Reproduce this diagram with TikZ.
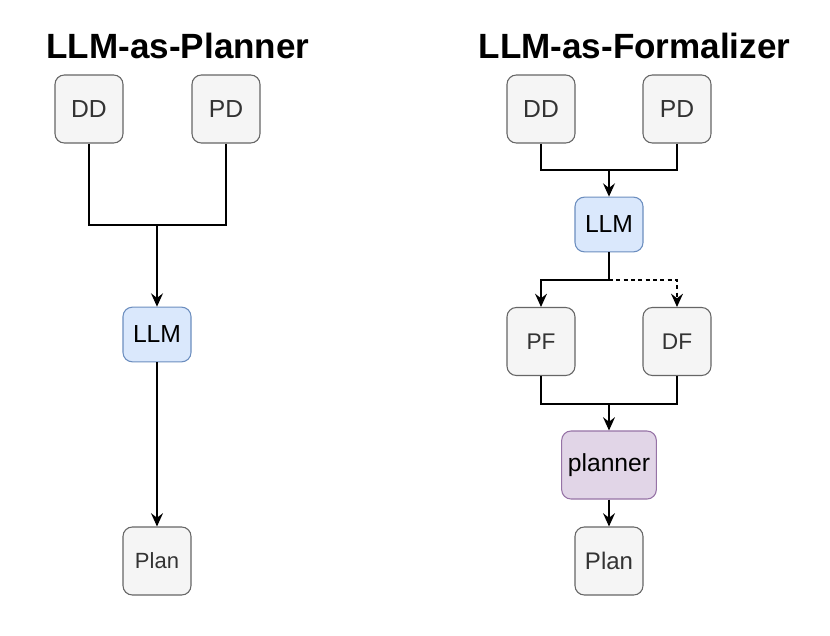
\documentclass[tikz,border=0pt]{standalone}
\usepackage{fontspec}
\setmainfont{Liberation Sans}
\usetikzlibrary{arrows.meta}
\definecolor{grayfill}{HTML}{F5F5F5}
\definecolor{graydraw}{HTML}{666666}
\definecolor{graytext}{HTML}{333333}
\definecolor{bluefill}{HTML}{DAE8FC}
\definecolor{bluedraw}{HTML}{6C8EBF}
\definecolor{purplefill}{HTML}{E1D5E7}
\definecolor{purpledraw}{HTML}{9673A6}
\tikzset{
  box/.style={draw=graydraw,fill=grayfill,text=graytext,line width=0.8pt,
    rounded corners=7pt,minimum width=51pt,minimum height=51pt,inner sep=0pt},
  llmbox/.style={box,draw=bluedraw,fill=bluefill,text=black,minimum height=41pt},
  plannerbox/.style={box,draw=purpledraw,fill=purplefill,text=black,minimum width=71pt},
  heading/.style={font=\fontsize{26.3}{30}\selectfont\bfseries,anchor=base},
  link/.style={line width=0.9pt},
  arr/.style={link,-{Stealth[length=10pt,width=9pt,inset=3.5pt]}}
}
\begin{document}
\begin{tikzpicture}[x=0.75pt,y=-0.75pt]
\useasboundingbox[fill=white] (0,0) rectangle (830,635);
%\draw[] (0,0) grid (830,635);
% left: LLM-as-Planner
\node[heading] (ltitle) at (178,59) {LLM-as-Planner};
\node[box,font=\fontsize{18.5}{20}\selectfont] (ldd) at (89,109) {DD};
\node[box,font=\fontsize{18.5}{20}\selectfont] (lpd) at (226,109) {PD};
\node[llmbox,font=\fontsize{18.5}{20}\selectfont] (lllm) at (157,334.5) {LLM};
\node[box,font=\fontsize{16.5}{20}\selectfont] (lplan) at (157,561) {Plan};
\coordinate (ljoin) at (157,225);
\draw[link] (ldd.south) |- (ljoin);
\draw[link] (lpd.south) |- (ljoin);
\draw[arr] (ljoin) -- (lllm.north);
\draw[arr] (lllm.south) -- (lplan.north);
% right: LLM-as-Formalizer
\node[heading] (rtitle) at (634.5,59) {LLM-as-Formalizer};
\node[box,font=\fontsize{18.5}{20}\selectfont] (rdd) at (541,109) {DD};
\node[box,font=\fontsize{18.5}{20}\selectfont] (rpd) at (677,109) {PD};
\node[llmbox,font=\fontsize{18.5}{20}\selectfont] (rllm) at (609,224.5) {LLM};
\node[box,font=\fontsize{17}{20}\selectfont] (rpf) at (541,341.5) {PF};
\node[box,font=\fontsize{17}{20}\selectfont] (rdf) at (677,341.5) {DF};
\node[plannerbox,font=\fontsize{18.5}{20}\selectfont] (rplanner) at (609,465) {planner};
\node[box,font=\fontsize{18}{20}\selectfont] (rplan) at (609,561) {Plan};
\coordinate (rjoin) at (609,170);
\coordinate (rsplit) at (609,280);
\coordinate (rmerge) at (609,404);
\draw[link] (rdd.south) |- (rjoin);
\draw[link] (rpd.south) |- (rjoin);
\draw[arr] (rjoin) -- (rllm.north);
\draw[arr] (rllm.south) -- (rsplit) -| (rpf.north);
\draw[arr,dash pattern=on 3pt off 2.5pt] (rsplit) -| (rdf.north);
\draw[link] (rpf.south) |- (rmerge);
\draw[link] (rdf.south) |- (rmerge);
\draw[arr] (rmerge) -- (rplanner.north);
\draw[arr] (rplanner.south) -- (rplan.north);
\end{tikzpicture}
\end{document}
